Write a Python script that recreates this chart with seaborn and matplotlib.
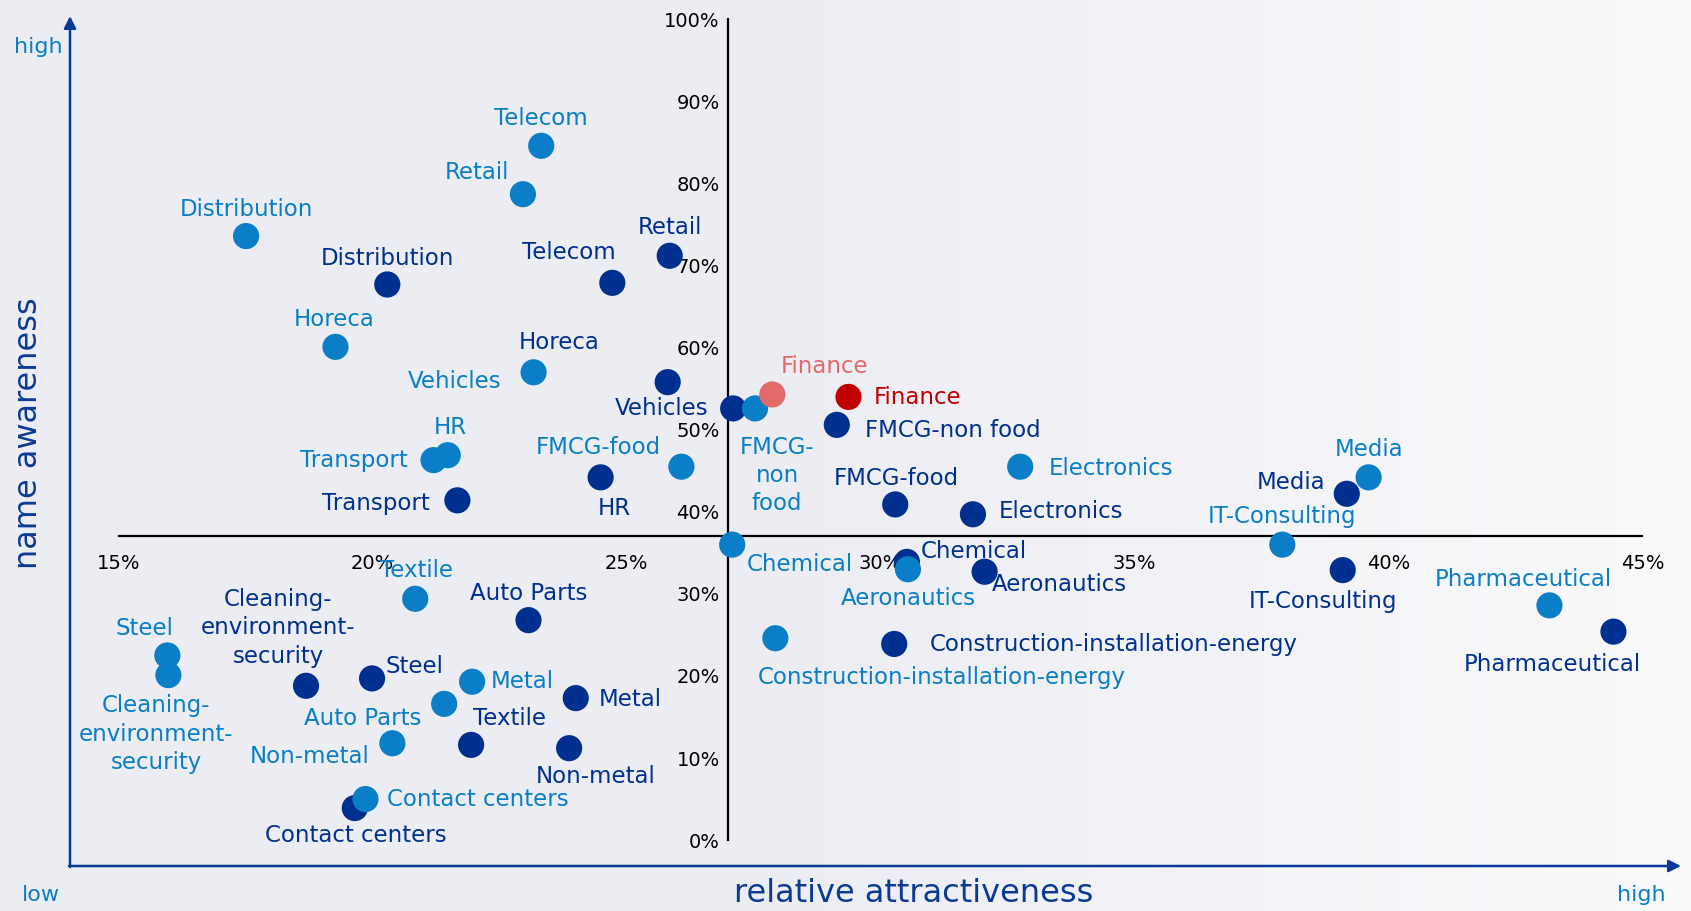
import numpy as np
import pandas as pd
import matplotlib
matplotlib.use("Agg")
import matplotlib.pyplot as plt
from matplotlib.colors import LinearSegmentedColormap
import seaborn as sns

# sectors, in the same order for both surveys
sectors = ["Telecom", "Retail", "Distribution", "Horeca", "Vehicles", "HR", "Transport",
           "FMCG-food", "FMCG-non food", "Chemical", "Aeronautics", "Electronics", "Media",
           "IT-Consulting", "Pharmaceutical", "Construction-installation-energy", "Textile",
           "Steel", "Cleaning-environment-security", "Metal", "Auto Parts", "Non-metal",
           "Contact centers"]

# light blue series (relative attractiveness %, name awareness %)
light_x = [23.32, 22.96, 17.51, 19.27, 23.17, 21.48, 21.20, 26.08, 27.53, 27.08, 30.54, 32.75,
           39.61, 37.91, 43.17, 27.93, 20.84, 15.96, 15.98, 21.96, 21.41, 20.39, 19.86]
light_y = [84.6, 78.7, 73.6, 60.1, 57.0, 46.9, 46.3, 45.5, 52.6, 36.0, 33.0, 45.5,
           44.2, 36.0, 28.6, 24.6, 29.4, 22.5, 20.1, 19.3, 16.6, 11.8, 5.0]

# dark blue series
dark_x = [24.72, 25.85, 20.29, 25.81, 27.10, 24.49, 21.67, 30.29, 29.14, 30.52, 32.05, 31.82,
          39.18, 39.10, 44.43, 30.27, 21.94, 19.99, 18.69, 24.00, 23.07, 23.87, 19.65]
dark_y = [67.9, 71.2, 67.7, 55.8, 52.6, 44.2, 41.4, 40.9, 50.6, 33.9, 32.7, 39.7,
          42.2, 32.9, 25.4, 23.9, 11.6, 19.7, 18.8, 17.3, 26.8, 11.2, 3.9]

# Finance highlighted
finance_light = (27.87, 54.3)
finance_dark = (29.37, 54.0)

x_ticks = [15, 20, 25, 30, 35, 40, 45]
y_ticks = [0, 10, 20, 30, 40, 50, 60, 70, 80, 90, 100]
x_cross, y_cross = 27, 37

# label offsets (pixels, label centre relative to dot)
light_off = {
    "Telecom": (0, 27), "Retail": (-46, 22), "Distribution": (0, 27), "Horeca": (-1, 27),
    "Vehicles": (-79, -9), "HR": (3, 28), "Transport": (-80, 0), "FMCG-food": (-83, 19),
    "FMCG-non food": (22, -67), "Chemical": (68, -20), "Aeronautics": (0, -29),
    "Electronics": (91, -2), "Media": (0, 28), "IT-Consulting": (0, 28),
    "Pharmaceutical": (-26, 26), "Construction-installation-energy": (166, -39),
    "Textile": (1, 28), "Steel": (-23, 27), "Cleaning-environment-security": (-12, -59),
    "Metal": (50, 0), "Auto Parts": (-81, -15), "Non-metal": (-83, -13),
    "Contact centers": (112, 0),
}
dark_off = {
    "Telecom": (-43, 30), "Retail": (0, 28), "Distribution": (0, 26), "Horeca": (-108, 40),
    "Vehicles": (-72, 0), "HR": (14, -31), "Transport": (-82, -3), "FMCG-food": (1, 26),
    "FMCG-non food": (116, -6), "Chemical": (67, 10), "Aeronautics": (75, -13),
    "Electronics": (88, 3), "Media": (-56, 11), "IT-Consulting": (-20, -31),
    "Pharmaceutical": (-61, -33), "Construction-installation-energy": (220, -1),
    "Textile": (38, 26), "Steel": (42, 12), "Cleaning-environment-security": (-28, 58),
    "Metal": (55, -1), "Auto Parts": (0, 27), "Non-metal": (26, -28),
    "Contact centers": (1, -27),
}
light_text = {"FMCG-non food": "FMCG-\nnon\nfood",
              "Cleaning-environment-security": "Cleaning-\nenvironment-\nsecurity"}
dark_text = {"Cleaning-environment-security": "Cleaning-\nenvironment-\nsecurity"}

LIGHT = "#0A7EC6"
DARK = "#00308F"
AXIS_BLUE = "#0B3A96"
FIN_LIGHT = "#E26A6A"
FIN_DARK = "#C00000"

sns.set_theme(style="white")
plt.rcParams["font.family"] = ["DejaVu Sans"]

W, H = 1691, 911
fig = plt.figure(figsize=(W / 100, H / 100), dpi=100)

# background gradient
bg = fig.add_axes([0, 0, 1, 1], zorder=-5)
cmap = LinearSegmentedColormap.from_list("bg", [(0, "#ECEDF3"), (0.45, "#ECEDF3"), (1, "#FAFAFC")])
bg.imshow(np.linspace(0, 1, 256)[None, :], aspect="auto", cmap=cmap, extent=[0, 1, 0, 1])
bg.axis("off")

# data axes: x 15..45 -> px 118.6..1642.4, y 0..100 -> px 840..19.4
left, right, top, bottom = 118.6, 1642.4, 19.4, 840.1
ax = fig.add_axes([left / W, 1 - bottom / H, (right - left) / W, (bottom - top) / H])
ax.patch.set_alpha(0)
ax.set_xlim(15, 45)
ax.set_ylim(0, 100)

df_light = pd.DataFrame({"sector": sectors, "x": light_x, "y": light_y})
df_dark = pd.DataFrame({"sector": sectors, "x": dark_x, "y": dark_y})

ms = 355
sns.scatterplot(data=df_dark, x="x", y="y", color=DARK, s=ms, edgecolor="none", ax=ax, zorder=3)
sns.scatterplot(data=df_light, x="x", y="y", color=LIGHT, s=ms, edgecolor="none", ax=ax, zorder=4)
sns.scatterplot(x=[finance_light[0]], y=[finance_light[1]], color=FIN_LIGHT, s=ms,
                edgecolor="none", ax=ax, zorder=4)
sns.scatterplot(x=[finance_dark[0]], y=[finance_dark[1]], color=FIN_DARK, s=ms,
                edgecolor="none", ax=ax, zorder=4)

fs = 16.5
for _, r in df_dark.iterrows():
    ax.annotate(dark_text.get(r.sector, r.sector), (r.x, r.y), xytext=dark_off[r.sector],
                textcoords="offset pixels", ha="center", va="center", color=DARK,
                fontsize=fs, linespacing=1.3, zorder=5)
for _, r in df_light.iterrows():
    ax.annotate(light_text.get(r.sector, r.sector), (r.x, r.y), xytext=light_off[r.sector],
                textcoords="offset pixels", ha="center", va="center", color=LIGHT,
                fontsize=fs, linespacing=1.3, zorder=5)
ax.annotate("Finance", finance_light, xytext=(52, 28), textcoords="offset pixels",
            ha="center", va="center", color=FIN_LIGHT, fontsize=fs, zorder=5)
ax.annotate("Finance", finance_dark, xytext=(69, -1), textcoords="offset pixels",
            ha="center", va="center", color=FIN_DARK, fontsize=fs, zorder=5)

# cross axes through the means
for s in ["top", "right"]:
    ax.spines[s].set_visible(False)
ax.spines["left"].set_position(("data", x_cross))
ax.spines["bottom"].set_position(("data", y_cross))
for s in ["left", "bottom"]:
    ax.spines[s].set_color("black")
    ax.spines[s].set_linewidth(1.6)
ax.set_xticks(x_ticks)
ax.set_xticklabels([f"{t}%" for t in x_ticks])
ax.set_yticks(y_ticks)
ax.set_yticklabels([f"{t}%" for t in y_ticks])
ax.tick_params(axis="x", length=0, pad=13, labelsize=14, colors="black")
ax.tick_params(axis="y", length=0, pad=6, labelsize=14, colors="black")
ax.set_xlabel("")
ax.set_ylabel("")

# outer arrows and axis titles
ax.annotate("", xy=(70, 911 - 16), xytext=(70, 911 - 867), xycoords="figure pixels",
            textcoords="figure pixels",
            arrowprops=dict(arrowstyle="-|>", color=AXIS_BLUE, lw=1.8, mutation_scale=18,
                            shrinkA=0, shrinkB=0))
ax.annotate("", xy=(1681, 911 - 866), xytext=(69, 911 - 866), xycoords="figure pixels",
            textcoords="figure pixels",
            arrowprops=dict(arrowstyle="-|>", color=AXIS_BLUE, lw=1.8, mutation_scale=18,
                            shrinkA=0, shrinkB=0))
fig.text(29 / W, 1 - 433 / H, "name awareness", rotation=90, ha="center", va="center",
         color=AXIS_BLUE, fontsize=23)
fig.text(914 / W, 1 - 893 / H, "relative attractiveness", ha="center", va="center",
         color=AXIS_BLUE, fontsize=23)
fig.text(38 / W, 1 - 47 / H, "high", ha="center", va="center", color=LIGHT, fontsize=16)
fig.text(41 / W, 1 - 895 / H, "low", ha="center", va="center", color=LIGHT, fontsize=16)
fig.text(1641 / W, 1 - 895 / H, "high", ha="center", va="center", color=LIGHT, fontsize=16)

fig.savefig("out.png", dpi=100)
